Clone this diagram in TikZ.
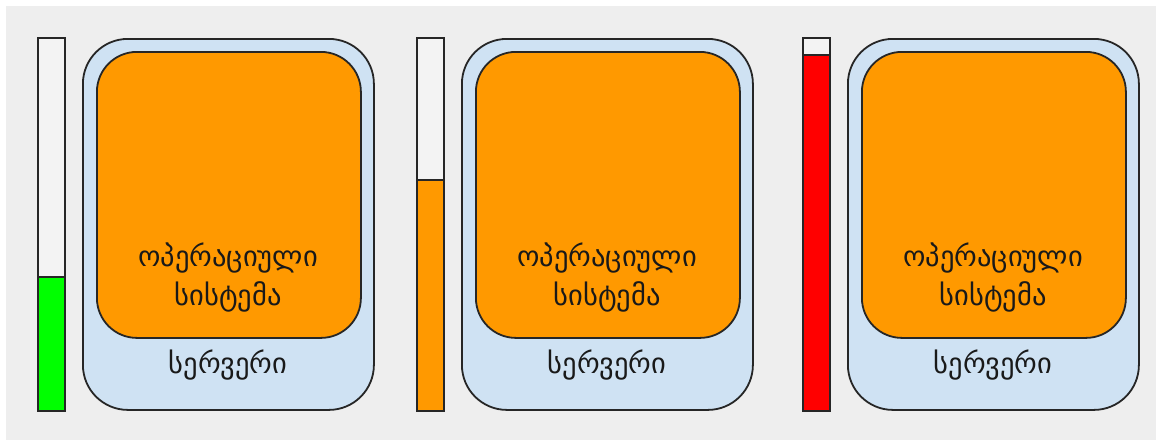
\documentclass[tikz,border=0pt]{standalone}
\usepackage{fontspec}
\newfontfamily\geofont[Script=Georgian]{DejaVu Sans}
\definecolor{bggray}{HTML}{EEEEEE}
\definecolor{srvblue}{HTML}{CFE2F3}
\definecolor{osorange}{HTML}{FF9900}
\definecolor{barempty}{HTML}{F3F3F3}
\definecolor{lvlgreen}{HTML}{00FF00}
\definecolor{lvlred}{HTML}{FF0000}
\usetikzlibrary{calc}

\begin{document}
\begin{tikzpicture}[x=1pt,y=-1pt,line width=1.8pt,
  server/.style={draw=black!85,fill=srvblue,rounded corners=45pt,anchor=north west,
    minimum width=291pt,minimum height=371pt,inner sep=0pt},
  opsys/.style={draw=black!85,fill=osorange,rounded corners=40pt,anchor=north west,
    minimum width=264pt,minimum height=286pt,inner sep=0pt},
  label/.style={font=\geofont\fontsize{28.5}{39}\selectfont,align=center,text=black!90}]
\useasboundingbox (0,0) rectangle (1156,440);
\fill[bggray] (6,6) rectangle (1156,440);
% bar x / server x / level / colour / name
\foreach \bx/\sx/\lvl/\col/\n in {37/82/277/lvlgreen/a,416/461/180/osorange/b,802/847/55/lvlred/c}{
  % load bar
  \fill[barempty] (\bx,37) rectangle (\bx+27,410);
  \fill[\col] (\bx,\lvl) rectangle (\bx+27,410);
  \draw[black!85] (\bx,\lvl) -- (\bx+27,\lvl);
  \node[draw=black!85,anchor=north west,minimum width=27pt,minimum height=373pt,inner sep=0pt] (bar\n) at (\bx,37) {};
  % server with the OS inside
  \node[server] (srv\n) at (\sx,38) {};
  \node[opsys] (os\n) at (\sx+14,51) {};
  \node[label] (ostxt\n) at (\sx+146,277) {ოპერაციული\\სისტემა};
  \node[label] (srvtxt\n) at (\sx+146,365) {სერვერი};
}
\end{tikzpicture}
\end{document}
